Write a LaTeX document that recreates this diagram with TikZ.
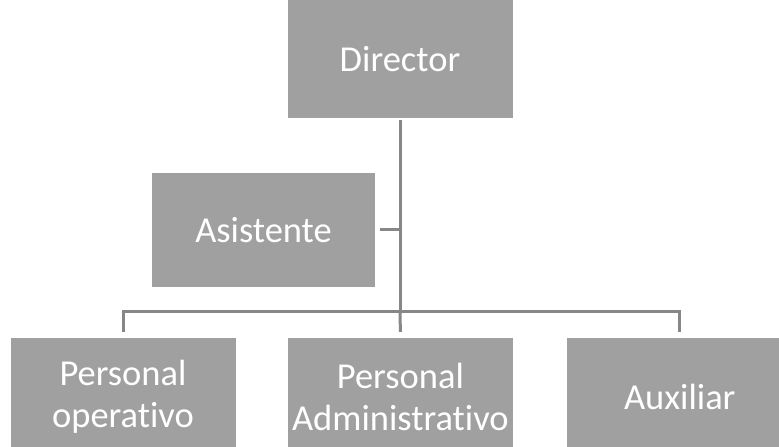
\documentclass[tikz,border=0pt]{standalone}
\usepackage{fontspec}
\setmainfont{Carlito}[Ligatures={NoCommon}]
\usetikzlibrary{positioning}
\definecolor{boxgray}{RGB}{160,160,160}
\definecolor{linegray}{RGB}{135,135,135}

\begin{document}
\begin{tikzpicture}[x=1pt,y=1pt]
\tikzset{BoxStyle/.style = {fill=boxgray, text=white, minimum width=225pt, minimum height=118pt, inner sep=0pt, align=center, font=\fontsize{36.5}{42}\selectfont}}
\tikzset{LinkStyle/.style = {draw=linegray, line width=3pt}}
\useasboundingbox (0,0) rectangle (779,447);
\node[BoxStyle](Dir) at (400,388){Director};
\node[BoxStyle, minimum width=223pt, minimum height=114pt](Asis) at (263.5,217){Asistente};
\node[BoxStyle](PerOp) at (123,50){Personal\\operativo};
\node[BoxStyle, right=52pt of PerOp](PerAd){Personal\\Administrativo};
\node[BoxStyle, right=54pt of PerAd](Aux){Auxiliar};
\coordinate (bar) at (400,135);
\draw[LinkStyle] ([yshift=-2pt]Dir.south) -- (bar);
\draw[LinkStyle] ([xshift=5pt]Asis.east) -- (Asis.east -| Dir.south);
\draw[LinkStyle] ([yshift=6pt]PerOp.north) |- (bar) -| ([yshift=6pt]Aux.north);
\draw[LinkStyle] (bar) -- ([yshift=6pt]PerAd.north);
\end{tikzpicture}
\end{document}
